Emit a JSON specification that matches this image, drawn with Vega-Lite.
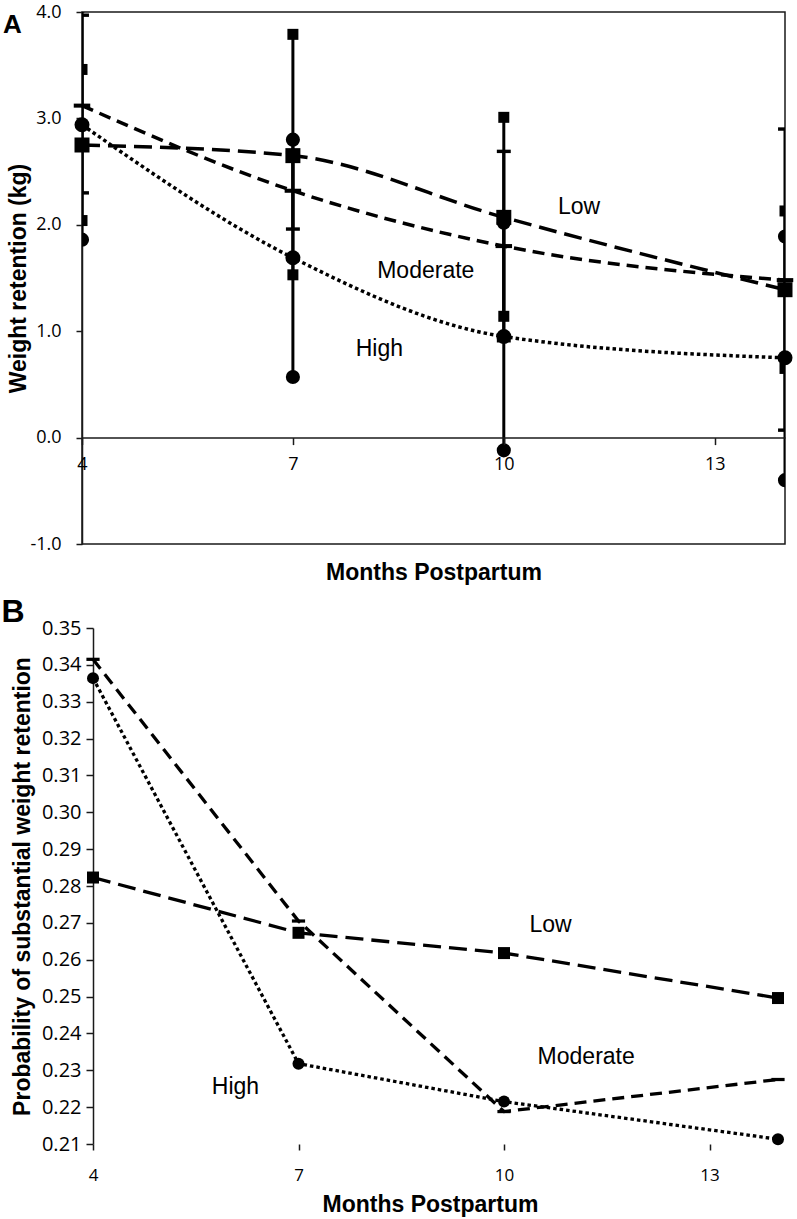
{
  "$schema": "https://vega.github.io/schema/vega-lite/v6.json",
  "background": "white",
  "padding": {"left": 1, "top": 2, "right": 4, "bottom": 2},
  "spacing": 10,
  "config": {
    "view": {"stroke": "#1a1a1a", "strokeWidth": 1.5},
    "axis": {
      "grid": false,
      "domainColor": "#1a1a1a",
      "domainWidth": 1.5,
      "tickColor": "#1a1a1a",
      "tickWidth": 1.5,
      "labelColor": "#000",
      "titleColor": "#000",
      "labelFont": "Open Sans",
      "labelFontSize": 18,
      "titleFont": "Liberation Sans",
      "titleFontWeight": "bold",
      "titleFontSize": 23,
      "labelFlush": false,
      "labelOverlap": false
    },
    "axisX": {"labelOverlap": false},
    "axisY": {"labelOverlap": false},
    "title": {"font": "Liberation Sans", "fontWeight": "bold", "color": "#000"}
  },
  "datasets": {
    "a_mean": [
      {"group": "Low", "month": 4, "value": 2.75},
      {"group": "Low", "month": 7, "value": 2.65},
      {"group": "Low", "month": 10, "value": 2.07},
      {"group": "Low", "month": 14, "value": 1.39},
      {"group": "Moderate", "month": 4, "value": 3.12},
      {"group": "Moderate", "month": 7, "value": 2.32},
      {"group": "Moderate", "month": 10, "value": 1.80},
      {"group": "Moderate", "month": 14, "value": 1.48},
      {"group": "High", "month": 4, "value": 2.94},
      {"group": "High", "month": 7, "value": 1.69},
      {"group": "High", "month": 10, "value": 0.95},
      {"group": "High", "month": 14, "value": 0.75}
    ],
    "a_err": [
      {"group": "Low", "month": 4, "lo": 2.04, "hi": 3.46},
      {"group": "Low", "month": 7, "lo": 1.53, "hi": 3.79},
      {"group": "Low", "month": 10, "lo": 1.14, "hi": 3.01},
      {"group": "Low", "month": 14, "lo": 0.65, "hi": 2.13},
      {"group": "Moderate", "month": 4, "lo": 2.30, "hi": 3.97},
      {"group": "Moderate", "month": 7, "lo": 1.96, "hi": 2.68},
      {"group": "Moderate", "month": 10, "lo": 0.91, "hi": 2.69},
      {"group": "Moderate", "month": 14, "lo": 0.07, "hi": 2.90},
      {"group": "High", "month": 4, "lo": 1.86, "hi": 4.06},
      {"group": "High", "month": 7, "lo": 0.57, "hi": 2.80},
      {"group": "High", "month": 10, "lo": -0.12, "hi": 2.02},
      {"group": "High", "month": 14, "lo": -0.40, "hi": 1.89}
    ],
    "a_lab": [
      {"month": 11.07, "value": 2.17, "label": "Low"},
      {"month": 8.89, "value": 1.57, "label": "Moderate"},
      {"month": 8.23, "value": 0.83, "label": "High"}
    ],
    "b": [
      {"group": "Low", "month": 4, "value": 0.2823},
      {"group": "Low", "month": 7, "value": 0.2673},
      {"group": "Low", "month": 10, "value": 0.2618},
      {"group": "Low", "month": 14, "value": 0.2496},
      {"group": "Moderate", "month": 4, "value": 0.3415},
      {"group": "Moderate", "month": 7, "value": 0.2705},
      {"group": "Moderate", "month": 10, "value": 0.2188},
      {"group": "Moderate", "month": 14, "value": 0.2275},
      {"group": "High", "month": 4, "value": 0.3364},
      {"group": "High", "month": 7, "value": 0.2318},
      {"group": "High", "month": 10, "value": 0.2215},
      {"group": "High", "month": 14, "value": 0.2113}
    ],
    "b_lab": [
      {"month": 10.68, "value": 0.2695, "label": "Low"},
      {"month": 11.2, "value": 0.2337, "label": "Moderate"},
      {"month": 6.08, "value": 0.2255, "label": "High"}
    ]
  },
  "vconcat": [
    {
      "width": 703,
      "height": 532,
      "title": {"text": "A", "anchor": "start", "frame": "bounds", "fontSize": 26, "offset": -35, "dx": -5},
      "encoding": {
        "x": {
          "field": "month", "type": "quantitative",
          "scale": {"domain": [4, 14], "nice": false, "zero": false},
          "axis": {"values": [4, 7, 10, 13], "title": "Months Postpartum", "offset": -106.4, "tickSize": 7, "labelPadding": 11, "titlePadding": 88, "labelOverlap": false, "labelFlush": false, "zindex": 1}
        }
      },
      "resolve": {"scale": {"size": "independent"}},
      "layer": [
        {
          "data": {"name": "a_err"},
          "mark": {"type": "rule", "strokeWidth": 3, "color": "#000", "clip": true},
          "encoding": {
            "y": {
              "field": "lo", "type": "quantitative", "title": "Weight retention (kg)",
              "scale": {"domain": [-1, 4], "nice": false, "zero": false},
              "axis": {"values": [-1, 0, 1, 2, 3, 4], "labelExpr": "replace(format(datum.value, '.1f'), '−', '-')", "tickSize": 6, "labelPadding": 15, "titlePadding": -1, "labelOverlap": false}
            },
            "y2": {"field": "hi"}
          }
        },
        {
          "data": {"name": "a_err"},
          "transform": [{"fold": ["lo", "hi"], "as": ["end", "value"]}],
          "mark": {"type": "point", "filled": true, "opacity": 1, "color": "#000", "clip": true},
          "encoding": {
            "y": {"field": "value", "type": "quantitative", "title": "Weight retention (kg)"},
            "shape": {"field": "group", "type": "nominal", "legend": null,
              "scale": {"domain": ["Low", "Moderate", "High"], "range": ["square", "M-1.1,-0.27H1.1V0.27H-1.1Z", "circle"]}},
            "size": {"field": "group", "type": "ordinal", "legend": null,
              "scale": {"domain": ["Low", "Moderate", "High"], "range": [121, 200, 121]}}
          }
        },
        {
          "data": {"name": "a_mean"},
          "mark": {"type": "line", "interpolate": "monotone", "strokeWidth": 3.5, "color": "#000"},
          "encoding": {
            "y": {"field": "value", "type": "quantitative", "title": "Weight retention (kg)"},
            "strokeDash": {"field": "group", "type": "nominal", "legend": null,
              "scale": {"domain": ["Low", "Moderate", "High"], "range": [[18, 8], [12, 7], [3.5, 3]]}}
          }
        },
        {
          "data": {"name": "a_mean"},
          "mark": {"type": "point", "filled": true, "opacity": 1, "color": "#000", "size": 225},
          "encoding": {
            "y": {"field": "value", "type": "quantitative", "title": "Weight retention (kg)"},
            "shape": {"field": "group", "type": "nominal", "legend": null,
              "scale": {"domain": ["Low", "Moderate", "High"], "range": ["square", "M-1.1,-0.27H1.1V0.27H-1.1Z", "circle"]}}
          }
        },
        {
          "data": {"name": "a_lab"},
          "mark": {"type": "text", "font": "Liberation Sans", "fontSize": 23, "color": "#000"},
          "encoding": {
            "y": {"field": "value", "type": "quantitative", "title": "Weight retention (kg)"},
            "text": {"field": "label"}
          }
        }
      ]
    },
    {
      "width": 696,
      "height": 516,
      "view": {"stroke": null},
      "title": {"text": "B", "anchor": "start", "frame": "bounds", "fontSize": 32, "offset": -11, "dx": -10},
      "encoding": {
        "x": {
          "field": "month", "type": "quantitative",
          "scale": {"domain": [3.8394, 14], "nice": false, "zero": false},
          "axis": {"values": [4, 7, 10, 13], "title": "Months Postpartum", "domain": false, "labelFontSize": 17, "tickSize": 6, "labelPadding": 17, "titlePadding": 10, "labelOverlap": false, "labelFlush": false}
        },
        "y": {
          "field": "value", "type": "quantitative", "title": "Probability of substantial weight retention",
          "scale": {"domain": [0.21, 0.35], "nice": false, "zero": false},
          "axis": {"values": [0.21, 0.22, 0.23, 0.24, 0.25, 0.26, 0.27, 0.28, 0.29, 0.3, 0.31, 0.32, 0.33, 0.34, 0.35], "format": ".2f", "offset": -11, "labelFontSize": 20, "tickSize": 7, "labelPadding": 5, "titlePadding": 7, "labelOverlap": false}
        }
      },
      "layer": [
        {
          "data": {"values": [{}]},
          "mark": {"type": "rule", "strokeWidth": 1.5, "color": "#1a1a1a"},
          "encoding": {"x": {"datum": 4}, "x2": {"datum": 14}, "y": {"datum": 0.35}}
        },
        {
          "data": {"values": [{}]},
          "mark": {"type": "rule", "strokeWidth": 1.5, "color": "#1a1a1a"},
          "encoding": {"x": {"datum": 4}, "x2": {"datum": 14}, "y": {"datum": 0.21}}
        },
        {
          "data": {"values": [{}]},
          "mark": {"type": "rule", "strokeWidth": 1.5, "color": "#1a1a1a"},
          "encoding": {"x": {"datum": 14}, "y": {"datum": 0.21}, "y2": {"datum": 0.35}}
        },
        {
          "data": {"name": "b"},
          "mark": {"type": "line", "strokeWidth": 3.3, "color": "#000"},
          "encoding": {
            "strokeDash": {"field": "group", "type": "nominal", "legend": null,
              "scale": {"domain": ["Low", "Moderate", "High"], "range": [[21, 9], [12, 6], [3, 2.5]]}}
          }
        },
        {
          "data": {"name": "b"},
          "mark": {"type": "point", "filled": true, "opacity": 1, "color": "#000", "size": 144},
          "encoding": {
            "shape": {"field": "group", "type": "nominal", "legend": null,
              "scale": {"domain": ["Low", "Moderate", "High"], "range": ["square", "M-1.1,-0.27H1.1V0.27H-1.1Z", "circle"]}}
          }
        },
        {
          "data": {"name": "b_lab"},
          "mark": {"type": "text", "font": "Liberation Sans", "fontSize": 23, "color": "#000"},
          "encoding": {
            "text": {"field": "label"}
          }
        }
      ]
    }
  ]
}
